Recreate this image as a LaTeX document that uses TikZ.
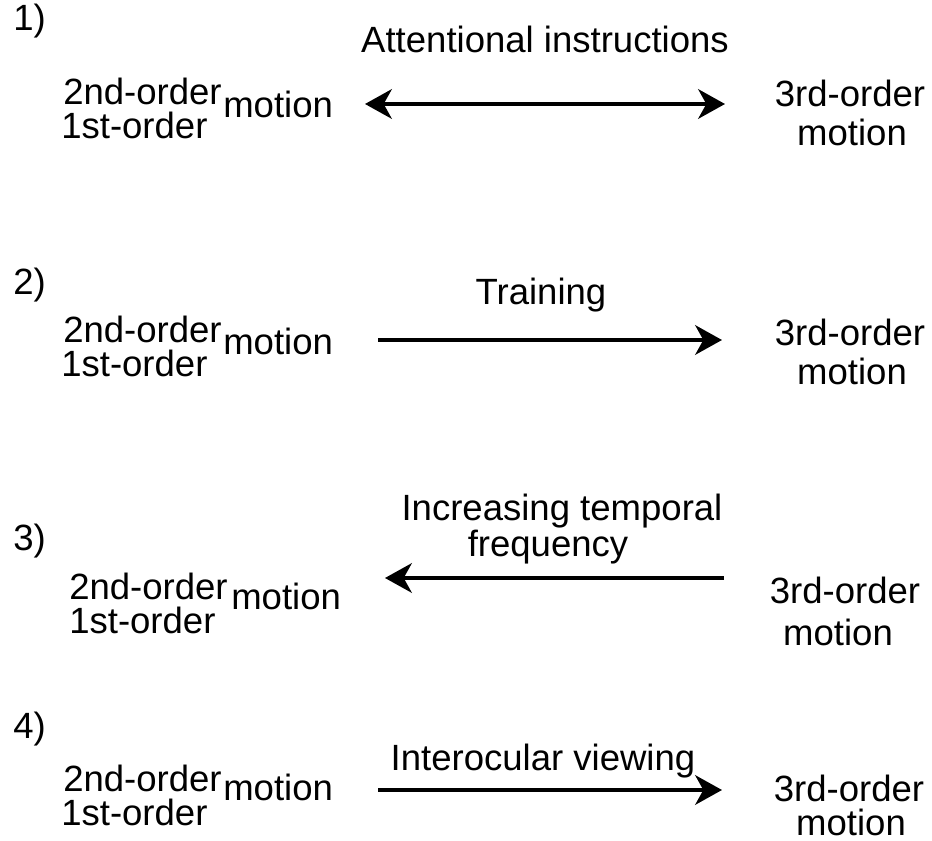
\documentclass[tikz,border=0pt]{standalone}
\usepackage{fontspec}
\setmainfont{Liberation Sans}
\usetikzlibrary{arrows.meta}

\tikzset{
	lbl/.style={inner sep=0.75pt, font=\fontsize{27.4}{28}\selectfont},
	conv/.style={line width=3.7pt, -{Stealth[length=20pt,width=22pt,inset=6pt]}},
	convboth/.style={line width=3.7pt, {Stealth[length=20pt,width=22pt,inset=6pt]}-{Stealth[length=20pt,width=22pt,inset=6pt]}}
}

\begin{document}
\begin{tikzpicture}[x=0.75pt,y=0.75pt,yscale=-1,xscale=1]
	\useasboundingbox (0,0) rectangle (932,841);

	% 1) attention
	\draw (12,31) node [anchor=base west][lbl] (num1) {1)};
	\draw (545,53) node [anchor=base][lbl] (lab1) {Attentional instructions};
	\draw (62,105) node [anchor=base west][lbl] (so1) {2nd-order};
	\draw (222,118) node [anchor=base west][lbl] (lm1) {motion};
	\draw (60,139) node [anchor=base west][lbl] (fo1) {1st-order};
	\draw (850,107) node [anchor=base][lbl] (to1) {3rd-order};
	\draw (852,146) node [anchor=base][lbl] (rm1) {motion};
	\coordinate (a1l) at (365,104);
	\coordinate (a1r) at (725,104);
	\draw [convboth] (a1l) -- (a1r);

	% 2) training
	\draw (12,295) node [anchor=base west][lbl] (num2) {2)};
	\draw (541,305) node [anchor=base][lbl] (lab2) {Training};
	\draw (62,343) node [anchor=base west][lbl] (so2) {2nd-order};
	\draw (222,355) node [anchor=base west][lbl] (lm2) {motion};
	\draw (60,377) node [anchor=base west][lbl] (fo2) {1st-order};
	\draw (850,346) node [anchor=base][lbl] (to2) {3rd-order};
	\draw (852,385) node [anchor=base][lbl] (rm2) {motion};
	\coordinate (a2l) at (378,340);
	\coordinate (a2r) at (722,340);
	\draw [conv] (a2l) -- (a2r);

	% 3) temporal frequency
	\draw (12,550) node [anchor=base west][lbl] (num3) {3)};
	\draw (562,520) node [anchor=base][lbl] (lab3) {Increasing temporal};
	\draw (548,556) node [anchor=base][lbl] (lab3b) {frequency};
	\draw (68,599) node [anchor=base west][lbl] (so3) {2nd-order};
	\draw (230,609) node [anchor=base west][lbl] (lm3) {motion};
	\draw (68,633) node [anchor=base west][lbl] (fo3) {1st-order};
	\draw (845,603) node [anchor=base][lbl] (to3) {3rd-order};
	\draw (838,645) node [anchor=base][lbl] (rm3) {motion};
	\coordinate (a3l) at (385,578);
	\coordinate (a3r) at (724,578);
	\draw [conv] (a3r) -- (a3l);

	% 4) interocular
	\draw (12,738) node [anchor=base west][lbl] (num4) {4)};
	\draw (543,770) node [anchor=base][lbl] (lab4) {Interocular viewing};
	\draw (62,791) node [anchor=base west][lbl] (so4) {2nd-order};
	\draw (222,800) node [anchor=base west][lbl] (lm4) {motion};
	\draw (60,825) node [anchor=base west][lbl] (fo4) {1st-order};
	\draw (849,801) node [anchor=base][lbl] (to4) {3rd-order};
	\draw (851,835) node [anchor=base][lbl] (rm4) {motion};
	\coordinate (a4l) at (378,790);
	\coordinate (a4r) at (722,790);
	\draw [conv] (a4l) -- (a4r);
\end{tikzpicture}
\end{document}
